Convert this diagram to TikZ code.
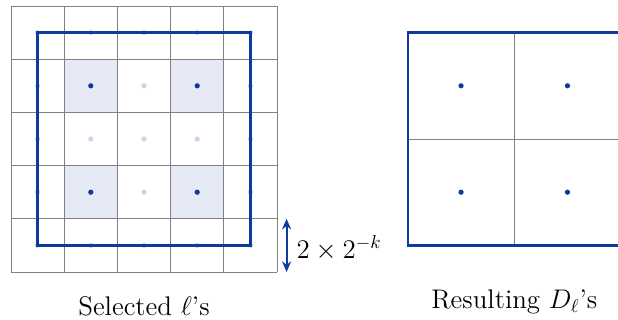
\documentclass[tikz,border=0pt]{standalone}
\usepackage{amsmath}
\usepackage{amssymb}
\usepackage{tikz}
\usetikzlibrary{
  arrows.meta,
  positioning,
  calc
}
\definecolor{GridGray}{RGB}{128,128,128}
\definecolor{BoxBlue}{RGB}{16,58,160}
\definecolor{DotLight}{RGB}{200,212,238}
\definecolor{CellShade}{RGB}{229,234,246}
\tikzset{
  gridline/.style={draw=GridGray,line width=0.5pt},
  selbox/.style={draw=BoxBlue,line width=1.3pt},
  shadecell/.style={fill=CellShade},
  seldot/.style={fill=BoxBlue},
  faintdot/.style={fill=DotLight},
  sizearrow/.style={{Stealth[length=2mm,width=1.7mm]}-{Stealth[length=2mm,width=1.7mm]},draw=BoxBlue,line width=1pt},
  caption/.style={font=\Large,anchor=base,inner sep=0pt}
}

\begin{document}
\begin{tikzpicture}
\clip (-0.207,-0.902) rectangle (11.41,5.113);

% left: grid of cells, selected ones shaded
\foreach \i in {1,3}
  \foreach \j in {1,3}
    \fill[shadecell] (\i,\j) rectangle ++(1,1);
\draw[gridline] (0,0) grid (5,5);
\foreach \i in {0,...,4}
  \foreach \j in {0,...,4}
    \fill[faintdot] (\i+0.5,\j+0.5) circle (1.4pt);
\draw[selbox] (0.5,0.5) rectangle (4.5,4.5);
\foreach \i in {1,3}
  \foreach \j in {1,3}
    \fill[seldot] (\i+0.5,\j+0.5) circle (1.4pt);

% size marker
\coordinate (arrtop) at (5.18,1);
\coordinate (arrbot) at (5.18,0);
\draw[sizearrow] (arrtop) -- (arrbot);
\node[font=\Large,anchor=base west,inner sep=0pt] (sizelbl) at (5.36,0.26) {$2\times2^{-k}$};

% right: resulting squares
\draw[gridline] (9.46,0.5) -- (9.46,4.5);
\draw[gridline] (7.46,2.5) -- (11.46,2.5);
\draw[selbox] (7.46,0.5) rectangle (11.46,4.5);
\foreach \i in {8.46,10.46}
  \foreach \j in {1.5,3.5}
    \fill[seldot] (\i,\j) circle (1.4pt);

\node[caption] (leftcap) at (2.5,-0.81) {Selected $\ell$'s};
\node[caption] (rightcap) at (9.46,-0.68) {Resulting $D_\ell$'s};
\end{tikzpicture}
\end{document}
